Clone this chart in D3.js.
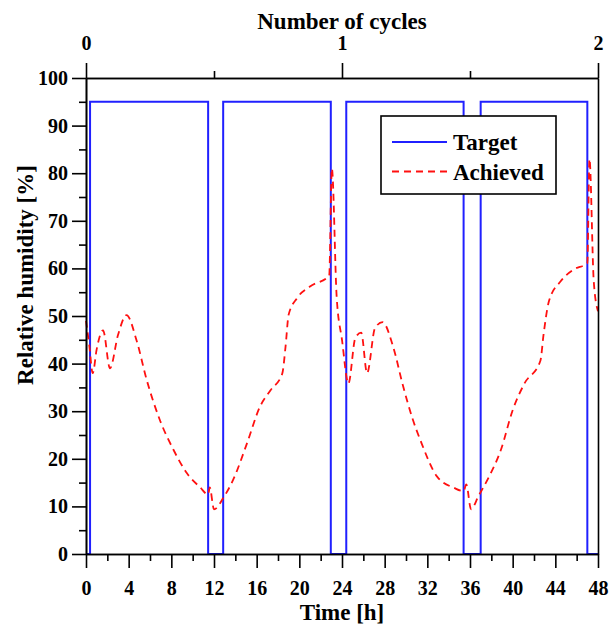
<!DOCTYPE html>
<html>
<head>
<meta charset="utf-8">
<script src="https://cdn.jsdelivr.net/npm/d3@7"></script>
<style>
  body { margin: 0; background: #fff; }
  svg text { font-family: "Liberation Serif", "Times New Roman", serif; font-weight: bold; fill: #000; }
  .axis path, .axis line { stroke: #000; stroke-width: 1.6px; }
</style>
</head>
<body>
<div id="chart-area"></div>
<script>
// Relative humidity: target vs achieved over two cycles
var targetTime  = [0, 0.38, 11.45, 12.86, 22.95, 24.4, 35.4, 37.0, 47.0, 48];
var targetValue = [0, 95,   0,     95,    0,     95,   0,    95,   0,    0];

var achievedTime  = [0, 0.3, 0.63, 1.0, 1.6, 2.25, 3.0, 3.8, 4.75, 5.7, 6.95, 8.2, 9.45, 10.7, 11.45, 11.6, 12.0, 12.9, 13.8, 15.1, 16.3, 17.3, 18.4, 18.7, 19.0, 19.8, 21.0, 22.8, 23.05, 23.5, 24.0, 24.6, 25.25, 25.8, 26.35, 27.1, 27.8, 28.8, 29.7, 30.6, 31.4, 32.9, 34.5, 35.4, 35.65, 36.1, 36.8, 37.8, 38.9, 40.0, 41.1, 42.6, 42.9, 43.4, 44.5, 45.75, 47.0, 47.2, 47.6, 48];
var achievedValue = [49, 44, 38, 43, 47, 39, 46, 50.2, 44.8, 36.5, 28, 21.9, 17, 14, 12.5, 14, 9.4, 11.9, 15.6, 23.3, 30.9, 34.4, 37.9, 43.4, 50.3, 53.8, 56.2, 58.5, 81, 54, 45, 35.8, 45.4, 46.5, 38, 47.5, 48.7, 43.5, 35.5, 28.5, 23.6, 16.3, 13.9, 13.2, 14.6, 9.4, 12.2, 16.3, 21.9, 30.2, 35.8, 40.6, 46.2, 53.1, 57.3, 59.8, 61.1, 83, 57.3, 51];

var timeTicks  = [0, 4, 8, 12, 16, 20, 24, 28, 32, 36, 40, 44, 48];
var timeMinor  = [2, 6, 10, 14, 18, 22, 26, 30, 34, 38, 42, 46];
var rhTicks    = [0, 10, 20, 30, 40, 50, 60, 70, 80, 90, 100];
var rhMinor    = [5, 15, 25, 35, 45, 55, 65, 75, 85, 95];
var cycleTicks = [0, 1, 2];
var cycleMinor = [0.5, 1.5];

var seriesNames = ["Target", "Achieved"];

var margin = { left: 86, right: 12, top: 78, bottom: 73 };
var width = 610 - margin.left - margin.right,
    height = 627 - margin.top - margin.bottom;

var svg = d3.select("#chart-area").append("svg")
    .attr("width", 610)
    .attr("height", 627);

var g = svg.append("g").attr("transform", "translate(" + margin.left + ", " + margin.top + ")");

var x = d3.scaleLinear().domain([0, 48]).range([0, width]);
var xc = d3.scaleLinear().domain([0, 2]).range([0, width]);
var y = d3.scaleLinear().domain([0, 100]).range([height, 0]);

// lines
var target = targetTime.map(function(t, i) { return [t, targetValue[i]]; });
var achieved = achievedTime.map(function(t, i) { return [t, achievedValue[i]]; });

var stepLine = d3.line()
    .x(function(d) { return x(d[0]); })
    .y(function(d) { return y(d[1]); })
    .curve(d3.curveStepAfter);

var smoothLine = d3.line()
    .x(function(d) { return x(d[0]); })
    .y(function(d) { return y(d[1]); })
    .curve(d3.curveMonotoneX);

g.append("path")
    .datum(target)
    .attr("d", stepLine)
    .attr("fill", "none")
    .attr("stroke", "#2020ff")
    .attr("stroke-width", 2);

g.append("path")
    .datum(achieved)
    .attr("d", smoothLine)
    .attr("fill", "none")
    .attr("stroke", "#ff1010")
    .attr("stroke-width", 1.8)
    .attr("stroke-dasharray", "7,5");

// axes
g.append("g").attr("class", "axis")
    .attr("transform", "translate(0, " + height + ")")
    .call(d3.axisBottom(x).tickValues(timeTicks).tickSize(14).tickSizeOuter(0).tickPadding(13))
    .selectAll("text").attr("font-size", "20px");
g.append("g").attr("class", "axis")
    .attr("transform", "translate(0, " + height + ")")
    .call(d3.axisBottom(x).tickValues(timeMinor).tickSize(7).tickSizeOuter(0).tickFormat(""));

g.append("g").attr("class", "axis")
    .call(d3.axisLeft(y).tickValues(rhTicks).tickSize(14).tickSizeOuter(0).tickPadding(4))
    .selectAll("text").attr("font-size", "20px");
g.append("g").attr("class", "axis")
    .call(d3.axisLeft(y).tickValues(rhMinor).tickSize(7).tickSizeOuter(0).tickFormat(""));

g.append("g").attr("class", "axis")
    .call(d3.axisTop(xc).tickValues(cycleTicks).tickSize(15).tickSizeOuter(0).tickPadding(13).tickFormat(d3.format("d")))
    .selectAll("text").attr("font-size", "20px");
g.append("g").attr("class", "axis")
    .call(d3.axisTop(xc).tickValues(cycleMinor).tickSize(7).tickSizeOuter(0).tickFormat(""));

g.append("g").attr("class", "axis")
    .attr("transform", "translate(" + width + ", 0)")
    .call(d3.axisRight(y).tickValues([]).tickSizeOuter(0));

// titles
g.append("text")
    .attr("x", width / 2)
    .attr("y", height + 66)
    .attr("font-size", "23px")
    .attr("text-anchor", "middle")
    .text("Time [h]");

g.append("text")
    .attr("x", width / 2)
    .attr("y", -49)
    .attr("font-size", "23px")
    .attr("text-anchor", "middle")
    .text("Number of cycles");

g.append("text")
    .attr("transform", "rotate(-90)")
    .attr("x", -(275 - margin.top))
    .attr("y", 33 - margin.left)
    .attr("font-size", "23px")
    .attr("text-anchor", "middle")
    .text("Relative humidity [%]");

// legend
var legend = svg.append("g");
legend.append("rect")
    .attr("x", 381).attr("y", 116)
    .attr("width", 175).attr("height", 78)
    .attr("fill", "#fff")
    .attr("stroke", "#000")
    .attr("stroke-width", 1.6);

var legendStyles = [
    { color: "#2020ff", dash: null, width: 2 },
    { color: "#ff1010", dash: "7,5", width: 1.8 }
];
seriesNames.forEach(function(name, i) {
    var ly = 142 + i * 29.5;
    legend.append("line")
        .attr("x1", 392).attr("x2", 447)
        .attr("y1", ly).attr("y2", ly)
        .attr("stroke", legendStyles[i].color)
        .attr("stroke-width", legendStyles[i].width)
        .attr("stroke-dasharray", legendStyles[i].dash);
    legend.append("text")
        .attr("x", 453)
        .attr("y", ly + 8)
        .attr("font-size", "23px")
        .text(name);
});
</script>
</body>
</html>
